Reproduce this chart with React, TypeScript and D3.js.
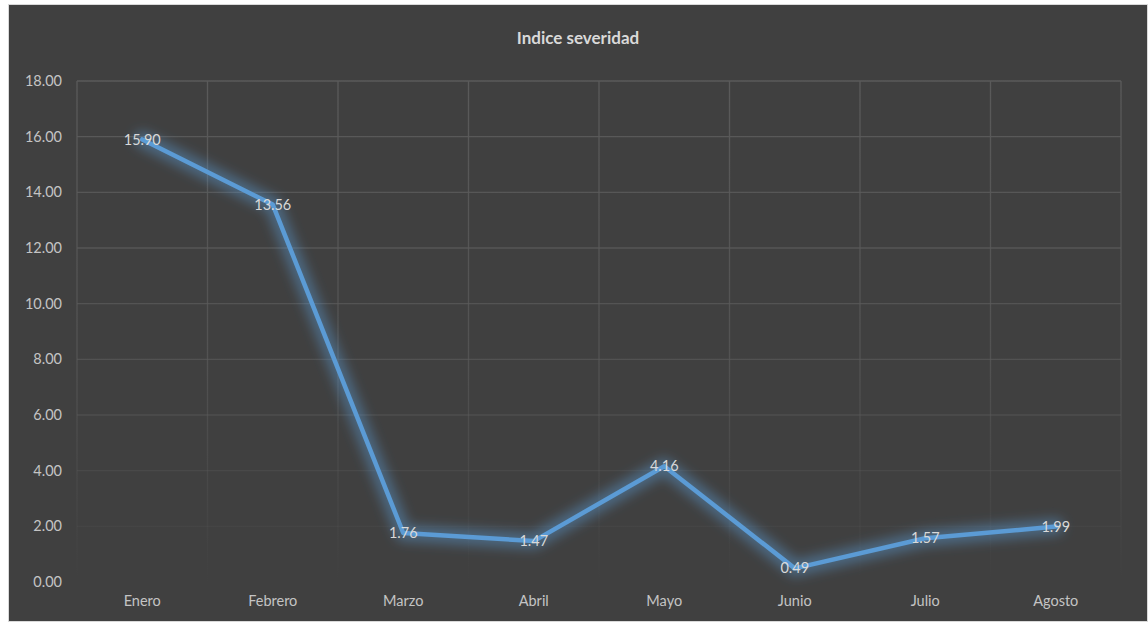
import React from "react";
import * as d3 from "d3";

const categories = ["Enero", "Febrero", "Marzo", "Abril", "Mayo", "Junio", "Julio", "Agosto"];
const values = [15.9, 13.56, 1.76, 1.47, 4.16, 0.49, 1.57, 1.99];
const yTicks = [0, 2, 4, 6, 8, 10, 12, 14, 16, 18];
const title = "Indice severidad";

const W = 1148;
const H = 623;
const plot = { left: 77, right: 1121, top: 81, bottom: 582 };
const FONT = "Lato, 'Open Sans', sans-serif";

export default function App() {
  const x = d3.scaleBand<string>().domain(categories).range([plot.left, plot.right]);
  const y = d3.scaleLinear().domain([0, 18]).range([plot.bottom, plot.top]);
  const cx = (c: string) => (x(c) as number) + x.bandwidth() / 2;
  const line = d3
    .line<number>()
    .x((_, i) => cx(categories[i]))
    .y((v) => y(v));
  const d = line(values) || "";
  const bounds = [...categories.map((c) => x(c) as number), plot.right];

  return (
    <svg
      width={W}
      height={H}
      style={{ position: "absolute", left: 0, top: 0 }}
      xmlns="http://www.w3.org/2000/svg"
    >
      <defs>
        <linearGradient id="gridGrad" gradientUnits="userSpaceOnUse" x1="0" y1={plot.top} x2="0" y2={plot.bottom}>
          <stop offset="0" stopColor="#5a5a5a" stopOpacity={1} />
          <stop offset="0.55" stopColor="#5a5a5a" stopOpacity={0.7} />
          <stop offset="1" stopColor="#5a5a5a" stopOpacity={0} />
        </linearGradient>
        <filter id="glow" x="-10%" y="-10%" width="120%" height="120%">
          <feGaussianBlur stdDeviation="6" />
        </filter>
      </defs>
      <rect x={0} y={0} width={W} height={H} fill="#ffffff" />
      <rect x={8.5} y={4.5} width={W - 9} height={H - 6} fill="#404040" stroke="#d9d9d9" strokeWidth={1} />
      <text
        x={578}
        y={44}
        textAnchor="middle"
        fill="#d9d9d9"
        fontFamily={FONT}
        fontWeight="bold"
        fontSize={17}
      >
        {title}
      </text>
      <g>
        {yTicks.map((t) => (
          <line
            key={"h" + t}
            x1={plot.left}
            x2={plot.right}
            y1={y(t)}
            y2={y(t)}
            stroke="url(#gridGrad)"
            strokeWidth={1.3}
          />
        ))}
        {bounds.map((b, i) => (
          <line
            key={"v" + i}
            x1={b}
            x2={b}
            y1={plot.top}
            y2={plot.bottom}
            stroke="url(#gridGrad)"
            strokeWidth={1.3}
          />
        ))}
      </g>
      <g fontFamily={FONT} fontSize={14.5} fill="#c4c4c4">
        {yTicks.map((t) => (
          <text key={"yt" + t} x={62} y={y(t)} dy="0.35em" textAnchor="end">
            {d3.format(".2f")(t)}
          </text>
        ))}
        {categories.map((c) => (
          <text key={"xt" + c} x={cx(c)} y={606} textAnchor="middle">
            {c}
          </text>
        ))}
      </g>
      <path d={d} fill="none" stroke="#5b9bd5" strokeOpacity={0.45} strokeWidth={16} strokeLinejoin="round" strokeLinecap="round" filter="url(#glow)" />
      <path d={d} fill="none" stroke="#5b9bd5" strokeWidth={4.5} strokeLinejoin="round" strokeLinecap="round" />
      <g fontFamily={FONT} fontSize={14.5} fill="#d9d9d9">
        {values.map((v, i) => (
          <text key={"dl" + i} x={cx(categories[i])} y={y(v)} dy="0.35em" textAnchor="middle">
            {d3.format(".2f")(v)}
          </text>
        ))}
      </g>
    </svg>
  );
}
